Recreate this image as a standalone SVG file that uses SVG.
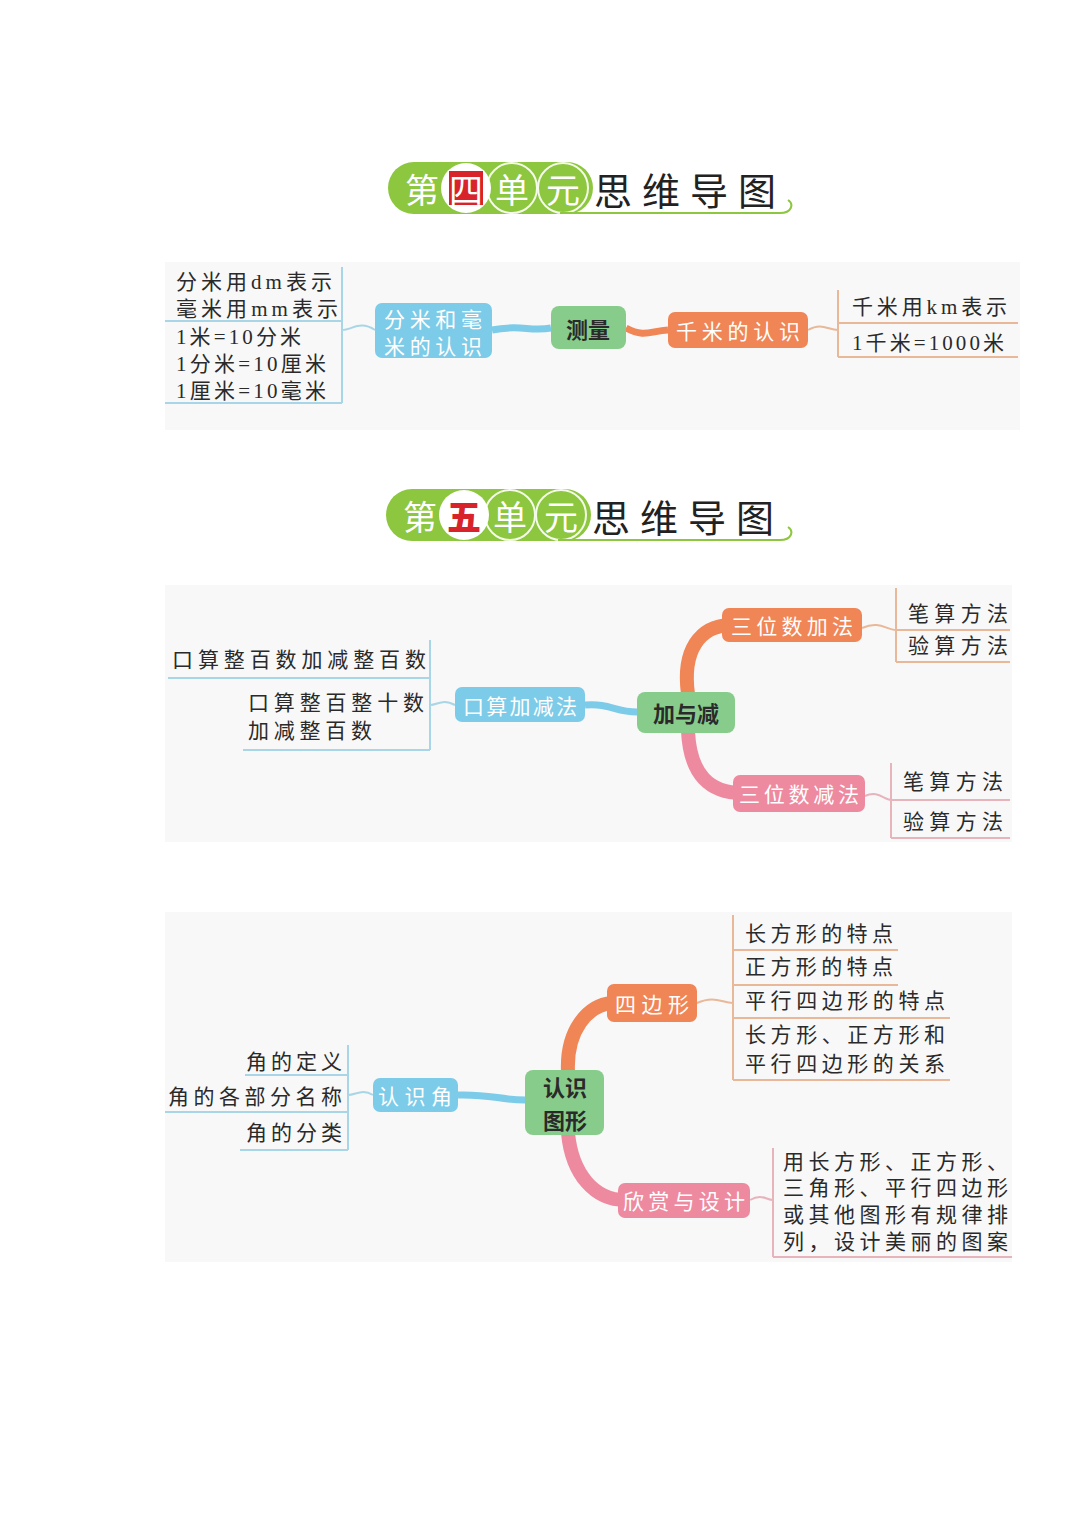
<svg xmlns="http://www.w3.org/2000/svg" width="1080" height="1527" viewBox="0 0 1080 1527">
<style>
.panel{fill:#f8f8f8}
.pill{fill:#8dc63f}
.circ{fill:#8dc63f;stroke:#f4fbe8;stroke-width:2}
.tw{font-family:"Noto Sans CJK SC",sans-serif;fill:#ffffff;font-size:34px;text-anchor:middle;dominant-baseline:central}
.tb{font-family:"Noto Sans CJK SC",sans-serif;fill:#222;font-size:38px;dominant-baseline:central}
.nt{font-family:"Noto Sans CJK SC",sans-serif;fill:#fff;font-size:21px;text-anchor:middle;dominant-baseline:central}
.nd{font-family:"Noto Sans CJK SC",sans-serif;fill:#2a2a2a;font-size:22px;font-weight:bold;text-anchor:middle;dominant-baseline:central}
.lf{font-family:"Liberation Serif","Noto Sans CJK SC",serif;fill:#2a2a2a;font-size:21px;dominant-baseline:central}
.green{fill:#88cc8c}
.blue{fill:#7ccbe8}
.orange{fill:#f08556}
.pink{fill:#ee8a9f}
.lb{stroke:#a8d6e6;stroke-width:2;fill:none}
.lo{stroke:#e9b898;stroke-width:2;fill:none}
.lp{stroke:#e8b4bc;stroke-width:2;fill:none}
</style>
<rect width="1080" height="1527" fill="#ffffff"/>
<rect class="panel" x="165" y="262" width="855" height="168"/>
<rect class="panel" x="165" y="585" width="847" height="257"/>
<rect class="panel" x="165" y="912" width="847" height="350"/>

<g id="title4">
<rect class="pill" x="388" y="162" width="205" height="52" rx="26"/>
<circle class="circ" cx="512" cy="188" r="25"/>
<circle class="circ" cx="563" cy="188" r="25"/>
<circle cx="466" cy="188" r="25" fill="#ffffff"/>
<rect x="449" y="171" width="34" height="34" fill="#d9232a"/>
<text class="tw" x="422" y="188">第</text>
<text class="tw" x="466" y="188" font-size="26">四</text>
<text class="tw" x="512" y="188">单</text>
<text class="tw" x="563" y="188">元</text>
<text class="tb" x="594" y="188" textLength="182" lengthAdjust="spacing">思维导图</text>
<path d="M560 213 L780 213 C792 213 794 204 788 200" fill="none" stroke="#8dc63f" stroke-width="2"/>
</g>

<g id="title5">
<rect class="pill" x="386" y="489" width="205" height="52" rx="26"/>
<circle class="circ" cx="510" cy="515" r="25"/>
<circle class="circ" cx="561" cy="515" r="25"/>
<circle cx="464" cy="515" r="25" fill="#ffffff"/>
<text class="tw" x="420" y="515">第</text>
<text class="tw" x="464" y="515" style="fill:#d9232a;font-weight:900" font-size="36">五</text>
<text class="tw" x="510" y="515">单</text>
<text class="tw" x="561" y="515">元</text>
<text class="tb" x="592" y="515" textLength="182" lengthAdjust="spacing">思维导图</text>
<path d="M558 540 L780 540 C792 540 794 531 788 527" fill="none" stroke="#8dc63f" stroke-width="2"/>
</g>

<g id="connectors">
<path d="M492 330 C520 324 530 332 551 328" stroke="#7ccbe8" stroke-width="7" fill="none"/>
<path d="M626 328 C645 338 650 331 668 330" stroke="#f08556" stroke-width="7" fill="none"/>
<path class="lb" d="M342 267 L342 403 M165 321 L342 321 M165 403 L342 403 M375 330 C360 320 352 330 342 330"/>
<path class="lo" d="M838 290 L838 357 M838 323 L1018 323 M838 357 L1018 357 M808 330 C822 322 828 330 838 330"/>
<path d="M585 705 C610 703 615 712 637 712" stroke="#7ccbe8" stroke-width="7" fill="none"/>
<path d="M688 694 C682 650 700 626 730 625" stroke="#f08556" stroke-width="14" fill="none" stroke-linecap="round"/>
<path d="M688 731 C690 775 710 793 742 793" stroke="#ee8a9f" stroke-width="14" fill="none" stroke-linecap="round"/>
<path class="lb" d="M430 640 L430 750 M168 678 L430 678 M243 750 L430 750 M455 705 C442 698 438 705 430 705"/>
<path class="lo" d="M896 588 L896 662 M896 630 L1010 630 M896 662 L1010 662 M862 628 C880 620 886 630 896 630"/>
<path class="lp" d="M891 763 L891 838 M891 800 L1010 800 M891 838 L1010 838 M865 796 C878 790 884 800 891 800"/>
<path d="M458 1095 C490 1094 500 1100 525 1100" stroke="#7ccbe8" stroke-width="7" fill="none"/>
<path d="M568 1072 C566 1030 588 1005 612 1003" stroke="#f08556" stroke-width="14" fill="none" stroke-linecap="round"/>
<path d="M568 1133 C572 1175 595 1200 625 1200" stroke="#ee8a9f" stroke-width="14" fill="none" stroke-linecap="round"/>
<path class="lb" d="M348 1045 L348 1150 M245 1075 L348 1075 M165 1112 L348 1112 M240 1150 L348 1150 M373 1095 C362 1088 356 1095 348 1095"/>
<path class="lo" d="M733 915 L733 1080 M733 950 L898 950 M733 985 L898 985 M733 1018 L950 1018 M733 1080 L950 1080 M697 1003 C715 995 722 1003 733 1003"/>
<path class="lp" d="M773 1148 L773 1257 M773 1257 L1012 1257 M750 1200 C762 1193 766 1200 773 1200"/>
</g>

<g id="n-celiang"><rect class="green" x="551" y="306" width="75" height="43" rx="8"/><text class="nd" x="588" y="328">测量</text></g>
<g id="n-fenmi"><rect class="blue" x="375" y="303" width="117" height="55" rx="7"/><text class="nt" x="433" y="318" textLength="98" lengthAdjust="spacing">分米和毫</text><text class="nt" x="433" y="345" textLength="98" lengthAdjust="spacing">米的认识</text></g>
<g id="n-qianmi"><rect class="orange" x="668" y="312" width="140" height="36" rx="7"/><text class="nt" x="738" y="330" textLength="124" lengthAdjust="spacing">千米的认识</text></g>
<g id="leaves-1">
<text class="lf" x="176" y="282" textLength="156" lengthAdjust="spacing">分米用dm表示</text>
<text class="lf" x="176" y="309" textLength="162" lengthAdjust="spacing">毫米用mm表示</text>
<text class="lf" x="176" y="337" textLength="125" lengthAdjust="spacing">1米=10分米</text>
<text class="lf" x="176" y="364" textLength="150" lengthAdjust="spacing">1分米=10厘米</text>
<text class="lf" x="176" y="391" textLength="150" lengthAdjust="spacing">1厘米=10毫米</text>
<text class="lf" x="852" y="307" textLength="155" lengthAdjust="spacing">千米用km表示</text>
<text class="lf" x="852" y="343" textLength="152" lengthAdjust="spacing">1千米=1000米</text>
</g>

<g id="n-jiayujian"><rect class="green" x="637" y="692" width="98" height="41" rx="8"/><text class="nd" x="686" y="712">加与减</text></g>
<g id="n-kousuan"><rect class="blue" x="455" y="687" width="130" height="35" rx="7"/><text class="nt" x="520" y="705" textLength="114" lengthAdjust="spacing">口算加减法</text></g>
<g id="n-jiafa"><rect class="orange" x="722" y="608" width="140" height="34" rx="7"/><text class="nt" x="792" y="625" textLength="122" lengthAdjust="spacing">三位数加法</text></g>
<g id="n-jianfa"><rect class="pink" x="733" y="775" width="132" height="37" rx="7"/><text class="nt" x="799" y="793" textLength="120" lengthAdjust="spacing">三位数减法</text></g>
<g id="leaves-2">
<text class="lf" x="172" y="660" textLength="254" lengthAdjust="spacing">口算整百数加减整百数</text>
<text class="lf" x="248" y="703" textLength="176" lengthAdjust="spacing">口算整百整十数</text>
<text class="lf" x="248" y="731" textLength="124" lengthAdjust="spacing">加减整百数</text>
<text class="lf" x="908" y="614" textLength="100" lengthAdjust="spacing">笔算方法</text>
<text class="lf" x="908" y="646" textLength="100" lengthAdjust="spacing">验算方法</text>
<text class="lf" x="903" y="782" textLength="100" lengthAdjust="spacing">笔算方法</text>
<text class="lf" x="903" y="822" textLength="100" lengthAdjust="spacing">验算方法</text>
</g>

<g id="n-renshituxing"><rect class="green" x="525" y="1070" width="79" height="65" rx="8"/><text class="nd" x="565" y="1086" font-size="21">认识</text><text class="nd" x="565" y="1119" font-size="21">图形</text></g>
<g id="n-renshijiao"><rect class="blue" x="373" y="1078" width="85" height="34" rx="7"/><text class="nt" x="415" y="1095" textLength="74" lengthAdjust="spacing">认识角</text></g>
<g id="n-sibianxing"><rect class="orange" x="607" y="984" width="90" height="38" rx="7"/><text class="nt" x="652" y="1003" textLength="74" lengthAdjust="spacing">四边形</text></g>
<g id="n-xinshang"><rect class="pink" x="618" y="1183" width="132" height="35" rx="7"/><text class="nt" x="684" y="1200" textLength="122" lengthAdjust="spacing">欣赏与设计</text></g>
<g id="leaves-3">
<text class="lf" x="246" y="1062" textLength="96" lengthAdjust="spacing">角的定义</text>
<text class="lf" x="168" y="1097" textLength="174" lengthAdjust="spacing">角的各部分名称</text>
<text class="lf" x="246" y="1133" textLength="96" lengthAdjust="spacing">角的分类</text>
<text class="lf" x="745" y="934" textLength="148" lengthAdjust="spacing">长方形的特点</text>
<text class="lf" x="745" y="967" textLength="148" lengthAdjust="spacing">正方形的特点</text>
<text class="lf" x="745" y="1001" textLength="200" lengthAdjust="spacing">平行四边形的特点</text>
<text class="lf" x="745" y="1035" textLength="200" lengthAdjust="spacing">长方形、正方形和</text>
<text class="lf" x="745" y="1064" textLength="200" lengthAdjust="spacing">平行四边形的关系</text>
<text class="lf" x="783" y="1162" textLength="225" lengthAdjust="spacing">用长方形、正方形、</text>
<text class="lf" x="783" y="1188" textLength="225" lengthAdjust="spacing">三角形、平行四边形</text>
<text class="lf" x="783" y="1215" textLength="225" lengthAdjust="spacing">或其他图形有规律排</text>
<text class="lf" x="783" y="1242" textLength="225" lengthAdjust="spacing">列，设计美丽的图案</text>
</g>
</svg>
